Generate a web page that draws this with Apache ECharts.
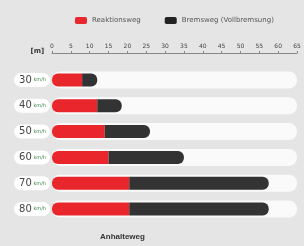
<!DOCTYPE html>
<html>
<head>
<meta charset="utf-8">
<script src="https://cdn.jsdelivr.net/npm/echarts@6/dist/echarts.min.js"></script>
<style>
  html, body { margin: 0; padding: 0; background: #e5e5e5; }
  #chart { width: 304px; height: 246px; }
</style>
</head>
<body>
<div id="chart"></div>
<script>
// Geschwindigkeit (km/h)
var speeds = ['30', '40', '50', '60', '70', '80'];
// Reaktionsweg und Bremsweg in m
var reaktionsweg = [8, 12, 14, 15, 20.5, 20.5];
var bremsweg = [4, 6.5, 12, 20, 37, 37];
var trackLen = [65, 65, 65, 65, 65, 65];
var axisMax = 65;

var chart = echarts.init(document.getElementById('chart'));

var option = {
    backgroundColor: '#e5e5e5',
    animation: false,
    textStyle: {fontFamily: 'DejaVu Sans'},
    legend: {
        top: 12,
        left: 70,
        width: 230,
        itemWidth: 12,
        itemHeight: 7,
        itemGap: 24,
        textStyle: {fontSize: 7, color: '#555'},
        data: [
            {name: 'Reaktionsweg', itemStyle: {color: '#e8262b'}},
            {name: 'Bremsweg (Vollbremsung)', itemStyle: {color: '#222'}}
        ]
    },
    grid: {left: 52, right: 7, top: 67, bottom: 24},
    xAxis: {
        type: 'value',
        position: 'top',
        offset: 14,
        min: 0,
        max: axisMax,
        interval: 5,
        name: '[m]',
        nameLocation: 'start',
        nameGap: 4,
        nameTextStyle: {fontSize: 7, color: '#333', fontWeight: 'bold', verticalAlign: 'bottom', padding: [0, 0, -2, 0]},
        axisLine: {show: true, lineStyle: {color: '#888'}},
        axisTick: {show: true, length: 2, lineStyle: {color: '#888'}},
        axisLabel: {fontSize: 6, color: '#444', margin: 4},
        splitLine: {show: false}
    },
    yAxis: [{
        type: 'category',
        inverse: true,
        data: speeds,
        axisLine: {show: false},
        axisTick: {show: false},
        axisLabel: {
            margin: 2,
            formatter: function(v) { return '{n|' + v + '}{u| km/h}'; },
            backgroundColor: '#fff',
            borderRadius: 7,
            padding: [2, 4, 2, 5],
            rich: {
                n: {fontSize: 10, color: '#444'},
                u: {fontSize: 5, color: '#3a8a4a'}
            }
        }
    }, {
        type: 'category',
        inverse: true,
        data: speeds,
        show: false
    }],
    series: [{
        name: 'track',
        type: 'bar',
        yAxisIndex: 1,
        data: trackLen,
        barWidth: 17,
        silent: true,
        itemStyle: {color: '#fafafa', borderRadius: 8},
        z: 1
    }, {
        name: 'Reaktionsweg',
        type: 'bar',
        stack: 'weg',
        data: reaktionsweg,
        barWidth: 13,
        itemStyle: {color: '#e8262b', borderRadius: [6, 0, 0, 6]},
        z: 3
    }, {
        name: 'Bremsweg (Vollbremsung)',
        type: 'bar',
        stack: 'weg',
        data: bremsweg,
        barWidth: 13,
        itemStyle: {color: '#333333', borderRadius: [0, 6, 6, 0]},
        z: 3
    }],
    graphic: [{
        type: 'text',
        left: 100,
        top: 233,
        style: {text: 'Anhalteweg', fontSize: 8, fontWeight: 'bold', fill: '#333'}
    }]
};
chart.setOption(option);
</script>
</body>
</html>
